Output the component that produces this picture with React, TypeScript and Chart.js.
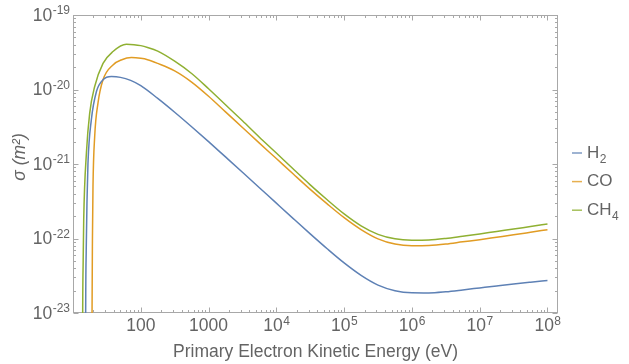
import React, { useEffect, useRef } from "react";
import { Chart, registerables } from "chart.js";

Chart.register(...registerables);

// ---- data (E in eV, sigma in m^2) ----
const h2Energy = [15.28, 15.38, 15.67, 16.11, 16.63, 18.62, 22.13, 27.73, 36.9, 50.1, 70.8, 100, 177.8, 316.2, 562.3, 1000, 1778, 3162, 5623, 1e4, 17783, 31623, 56234, 1e5, 177828, 316228, 562341, 1e6, 1.778e6, 3.162e6, 5.623e6, 1e7, 1.778e7, 3.162e7, 5.623e7, 1e8];
const h2Sigma = [6.3e-25, 1.0e-23, 7.08e-23, 3.31e-22, 1.02e-21, 3.89e-21, 9.33e-21, 1.349e-20, 1.489e-20, 1.455e-20, 1.327e-20, 1.127e-20, 7.59e-21, 4.95e-21, 3.162e-21, 1.995e-21, 1.245e-21, 7.76e-22, 4.81e-22, 2.98e-22, 1.849e-22, 1.153e-22, 7.28e-23, 4.7e-23, 3.2e-23, 2.37e-23, 1.995e-23, 1.871e-23, 1.862e-23, 1.928e-23, 2.042e-23, 2.173e-23, 2.312e-23, 2.455e-23, 2.594e-23, 2.735e-23];

const coEnergy = [18.97, 19.1, 19.36, 19.72, 20.89, 23.39, 27.73, 38.9, 52.5, 72.8, 100, 125.9, 177.8, 316.2, 562.3, 1000, 1778, 3162, 5623, 1e4, 17783, 31623, 56234, 1e5, 177828, 316228, 562341, 1e6, 1.778e6, 3.162e6, 5.623e6, 1e7, 1.778e7, 3.162e7, 5.623e7, 1e8];
const coSigma = [6.3e-25, 1.0e-23, 1.0e-22, 5.01e-22, 2.344e-21, 6.61e-21, 1.349e-20, 2.138e-20, 2.512e-20, 2.679e-20, 2.618e-20, 2.512e-20, 2.239e-20, 1.778e-20, 1.259e-20, 8.13e-21, 5.01e-21, 3.09e-21, 1.905e-21, 1.183e-21, 7.33e-22, 4.57e-22, 2.917e-22, 1.905e-22, 1.318e-22, 9.89e-23, 8.41e-23, 7.98e-23, 8.04e-23, 8.41e-23, 9.02e-23, 9.64e-23, 1.04e-22, 1.122e-22, 1.213e-22, 1.312e-22];

const ch4Energy = [13.8, 13.9, 14.13, 14.39, 15.78, 17.62, 20.89, 27.73, 38.9, 61.4, 79.4, 100, 125.9, 177.8, 316.2, 562.3, 1000, 1778, 3162, 5623, 1e4, 17783, 31623, 56234, 1e5, 177828, 316228, 562341, 1e6, 1.778e6, 3.162e6, 5.623e6, 1e7, 1.778e7, 3.162e7, 5.623e7, 1e8];
const ch4Sigma = [6.3e-25, 1.0e-23, 5.01e-23, 1.778e-22, 1.413e-21, 4.79e-21, 1.096e-20, 2.239e-20, 3.236e-20, 4.046e-20, 4.0e-20, 3.88e-20, 3.67e-20, 3.273e-20, 2.399e-20, 1.641e-20, 1.023e-20, 6.24e-21, 3.8e-21, 2.291e-21, 1.406e-21, 8.55e-22, 5.25e-22, 3.31e-22, 2.138e-22, 1.479e-22, 1.135e-22, 9.89e-23, 9.51e-23, 9.57e-23, 1.002e-22, 1.074e-22, 1.153e-22, 1.245e-22, 1.34e-22, 1.449e-22, 1.563e-22];

const seriesLabels = ["H2", "CO", "CH4"];
const legendBase = ["H", "CO", "CH"];
const legendSub = ["2", "", "4"];
const seriesColors = ["#5E81B5", "#E19C24", "#8FB032"];

const xTickValues = [1e2, 1e3, 1e4, 1e5, 1e6, 1e7, 1e8];
const xTickBase = ["100", "1000", "10", "10", "10", "10", "10"];
const xTickExp = ["", "", "4", "5", "6", "7", "8"];
const yTickValues = [1e-19, 1e-20, 1e-21, 1e-22, 1e-23];
const yTickBase = ["10", "10", "10", "10", "10"];
const yTickExp = ["-19", "-20", "-21", "-22", "-23"];

const xMin = 10;
const xMax = 1.43e8;
const yMin = 1e-23;
const yMax = 1e-19;

const xTitle = "Primary Electron Kinetic Energy (eV)";
const yTitle = "\u03C3 (m\u00B2)";

const FONT = "'Liberation Sans', Arial, sans-serif";
const TEXT = "#646464";
const FRAME = "#a8a8a8";

function toPoints(xs: number[], ys: number[]) {
  return xs.map((x, i) => ({ x, y: ys[i] }));
}

function minorValues(min: number, max: number) {
  const out: { v: number; major: boolean }[] = [];
  const lo = Math.floor(Math.log10(min));
  const hi = Math.ceil(Math.log10(max));
  for (let e = lo; e <= hi; e++) {
    for (let m = 1; m <= 9; m++) {
      const v = m * Math.pow(10, e);
      if (v >= min * 0.9999 && v <= max * 1.0001) out.push({ v, major: m === 1 });
    }
  }
  return out;
}

const framePlugin = {
  id: "mmaFrame",
  beforeDatasetsDraw(chart: any) {
    const { ctx, chartArea: a, scales } = chart;
    const xs = scales.x;
    const ys = scales.y;
    ctx.save();
    ctx.strokeStyle = FRAME;
    ctx.lineWidth = 1;
    const L = Math.round(a.left) + 0.5;
    const R = Math.round(a.right) - 0.5;
    const T = Math.round(a.top) + 0.5;
    const B = Math.round(a.bottom) - 0.5;
    ctx.strokeRect(L, T, R - L, B - T);
    ctx.beginPath();
    for (const t of minorValues(xMin, xMax)) {
      const px = Math.round(xs.getPixelForValue(t.v)) + 0.5;
      const len = t.major ? 5 : 2.5;
      ctx.moveTo(px, B);
      ctx.lineTo(px, B - len);
      ctx.moveTo(px, T);
      ctx.lineTo(px, T + len);
    }
    for (const t of minorValues(yMin, yMax)) {
      const py = Math.round(ys.getPixelForValue(t.v)) + 0.5;
      const len = t.major ? 5 : 2.5;
      ctx.moveTo(L, py);
      ctx.lineTo(L + len, py);
      ctx.moveTo(R, py);
      ctx.lineTo(R - len, py);
    }
    ctx.stroke();
    ctx.restore();
  },
  afterDraw(chart: any) {
    const { ctx, chartArea: a, scales } = chart;
    const xs = scales.x;
    const ys = scales.y;
    ctx.save();
    ctx.fillStyle = TEXT;
    const baseFont = `17.5px ${FONT}`;
    const expFont = `12px ${FONT}`;
    // y tick labels
    yTickValues.forEach((v, i) => {
      const py = ys.getPixelForValue(v);
      ctx.font = expFont;
      const we = ctx.measureText(yTickExp[i]).width;
      ctx.font = baseFont;
      const wb = ctx.measureText(yTickBase[i]).width;
      const right = a.left - 3;
      ctx.textAlign = "left";
      ctx.textBaseline = "middle";
      ctx.fillText(yTickBase[i], right - we - wb - 0.5, py + 1);
      ctx.font = expFont;
      ctx.textBaseline = "alphabetic";
      ctx.fillText(yTickExp[i], right - we, py - 1);
    });
    // x tick labels
    xTickValues.forEach((v, i) => {
      const px = xs.getPixelForValue(v);
      ctx.font = baseFont;
      const wb = ctx.measureText(xTickBase[i]).width;
      ctx.font = expFont;
      const we = xTickExp[i] ? ctx.measureText(xTickExp[i]).width : 0;
      const start = px - (wb + we) / 2;
      const y0 = a.bottom + 13.5;
      ctx.font = baseFont;
      ctx.textAlign = "left";
      ctx.textBaseline = "middle";
      ctx.fillText(xTickBase[i], start, y0);
      if (xTickExp[i]) {
        ctx.font = expFont;
        ctx.textBaseline = "alphabetic";
        ctx.fillText(xTickExp[i], start + wb + 0.5, y0 - 1.5);
      }
    });
    // axis titles
    ctx.font = baseFont;
    ctx.textAlign = "center";
    ctx.textBaseline = "middle";
    ctx.fillText(xTitle, (a.left + a.right) / 2, a.bottom + 39);
    ctx.save();
    ctx.translate(20, 157);
    ctx.rotate(-Math.PI / 2);
    ctx.font = `italic 17.5px ${FONT}`;
    ctx.fillText(yTitle, 0, 0);
    ctx.restore();
    // legend
    const legendY0 = 153;
    const legendStep = 28.6;
    seriesLabels.forEach((_, i) => {
      const y = legendY0 + i * legendStep;
      ctx.globalAlpha = 0.8;
      ctx.strokeStyle = seriesColors[i];
      ctx.lineWidth = 1.5;
      ctx.beginPath();
      ctx.moveTo(572, y);
      ctx.lineTo(582, y);
      ctx.stroke();
      ctx.globalAlpha = 1;
      ctx.fillStyle = TEXT;
      ctx.font = `17px ${FONT}`;
      ctx.textAlign = "left";
      ctx.textBaseline = "middle";
      ctx.fillText(legendBase[i], 587, y);
      if (legendSub[i]) {
        const w = ctx.measureText(legendBase[i]).width;
        ctx.font = expFont;
        ctx.textBaseline = "alphabetic";
        ctx.fillText(legendSub[i], 587 + w + 0.5, y + 9.5);
      }
    });
    ctx.restore();
  },
};

export default function App() {
  const ref = useRef<HTMLCanvasElement | null>(null);
  useEffect(() => {
    if (!ref.current) return;
    const series = [
      toPoints(h2Energy, h2Sigma),
      toPoints(coEnergy, coSigma),
      toPoints(ch4Energy, ch4Sigma),
    ];
    const chart = new Chart(ref.current, {
      type: "line",
      data: {
        datasets: series.map((d, i) => ({
          label: seriesLabels[i],
          data: d,
          borderColor: seriesColors[i],
          backgroundColor: seriesColors[i],
          borderWidth: 1.5,
          pointRadius: 0,
          fill: false,
          cubicInterpolationMode: "monotone" as const,
        })),
      },
      options: {
        responsive: false,
        animation: false,
        layout: { padding: { left: 73, right: 71, top: 15, bottom: 51 } },
        plugins: { legend: { display: false }, tooltip: { enabled: false } },
        scales: {
          x: { type: "logarithmic", min: xMin, max: xMax, display: false },
          y: { type: "logarithmic", min: yMin, max: yMax, display: false },
        },
      },
      plugins: [framePlugin],
    });
    return () => chart.destroy();
  }, []);
  return (
    <div style={{ position: "fixed", left: 0, top: 0, width: 629, height: 364, background: "#fff" }}>
      <canvas ref={ref} width={629} height={364} style={{ display: "block" }} />
    </div>
  );
}
